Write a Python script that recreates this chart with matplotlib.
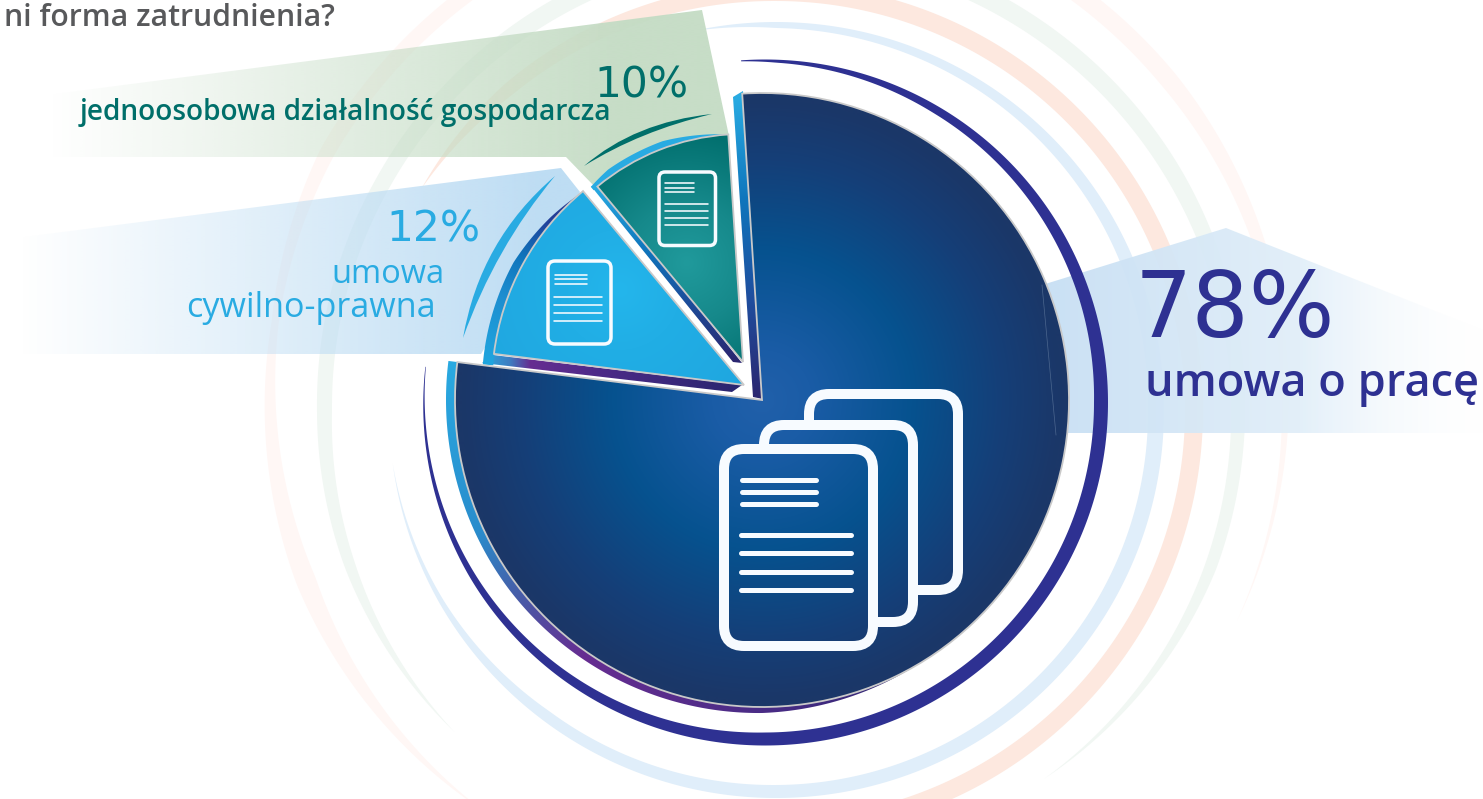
import numpy as np
import matplotlib
matplotlib.use("Agg")
import matplotlib.pyplot as plt
from matplotlib.colors import to_rgb
from matplotlib.patches import Polygon, FancyBboxPatch, PathPatch
from matplotlib.path import Path

# ---- data ----
SHARES = [78, 12, 10]
LABELS = ["umowa o pracę", "umowa\ncywilno-prawna", "jednoosobowa działalność gospodarcza"]
TITLE = "ni forma zatrudnienia?"

W, H = 1483, 799
fig = plt.figure(figsize=(W / 100, H / 100), dpi=100, facecolor="white")
ax = fig.add_axes([0, 0, 1, 1])
ax.set_xlim(0, W)
ax.set_ylim(H, 0)
ax.axis("off")
FONT = "Open Sans"


def polar_poly(c, angs, r_in, r_out, n=400):
    t = np.linspace(angs[0], angs[-1], n)
    ri = np.interp(t, angs, r_in) if angs[0] < angs[-1] else np.interp(t[::-1], angs[::-1], r_in[::-1])[::-1]
    ro = np.interp(t, angs, r_out) if angs[0] < angs[-1] else np.interp(t[::-1], angs[::-1], r_out[::-1])[::-1]
    a = np.radians(t)
    outer = np.c_[c[0] + ro * np.cos(a), c[1] - ro * np.sin(a)]
    inner = np.c_[c[0] + ri * np.cos(a), c[1] - ri * np.sin(a)]
    return np.vstack([outer, inner[::-1]])


def ring(c, angs, r_in, r_out, color, z=1):
    p = Polygon(polar_poly(c, angs, r_in, r_out), closed=True, fc=color, ec="none", zorder=z)
    ax.add_patch(p)
    return p


def grad(clip, box, field, stops, z, alpha=None):
    x0, x1, y0, y1 = box
    xs = np.arange(np.floor(x0), np.ceil(x1) + 1)
    ys = np.arange(np.floor(y0), np.ceil(y1) + 1)
    X, Y = np.meshgrid(xs, ys)
    v = field(X, Y)
    pos = [s[0] for s in stops]
    cols = np.array([to_rgb(s[1]) for s in stops])
    rgba = np.ones(X.shape + (4,))
    for i in range(3):
        rgba[..., i] = np.interp(v, pos, cols[:, i])
    if alpha is not None:
        rgba[..., 3] = np.interp(v, pos, alpha)
    im = ax.imshow(rgba, extent=(xs[0], xs[-1], ys[-1], ys[0]), origin="upper",
                   interpolation="bilinear", aspect="auto", zorder=z)
    im.set_clip_path(clip)
    return im


def poly_grad(pts, field, stops, z, alpha=None):
    pts = np.asarray(pts, float)
    p = Polygon(pts, closed=True, fc="none", ec="none", zorder=z)
    ax.add_patch(p)
    grad(p, (pts[:, 0].min(), pts[:, 0].max(), pts[:, 1].min(), pts[:, 1].max()), field, stops, z, alpha)
    return p


def by_x(X, Y):
    return X


def by_y(X, Y):
    return Y


def by_angle(c):
    return lambda X, Y: np.degrees(np.arctan2(-(Y - c[1]), X - c[0])) % 360


def by_radius(c):
    return lambda X, Y: np.hypot(X - c[0], Y - c[1])


# ---- concentric background rings ----
RC = (776, 410)
ring(RC, [232, 200, 170, 150, 120, 90, 40, -24.5 + 0],
     [496, 490, 505, 510, 510, 508, 504, 507], [497, 510, 512, 525, 526, 526, 522, 507], "#fff7f5", 1)
ring(RC, [225, 200, 180, 150, 90, 30, -20, -54],
     [455, 448, 444, 446, 452, 454, 456, 456], [455, 459, 459, 462, 472, 471, 468, 456], "#f1f7f3", 1)
ring(RC, [148, 130, 90, 0, -72],
     [418, 411, 409, 409, 409], [418, 424, 427, 427, 427], "#fde8df", 1)
ring(RC, [100.5, 90, 0, -90, -127, -150, -172],
     [387, 382, 372, 375, 377, 383, 387], [388, 388, 388, 388, 388, 388, 387], "#e0eefa", 2)

# ---- call-out banners ----
poly_grad([(702, 10), (0, 101), (0, 157), (566, 157), (595, 187), (729, 136)], by_x,
          [(50, "#c5dcc5"), (620, "#c5dcc5")], 3, alpha=[0, 0.97])
poly_grad([(561, 168), (0, 240), (0, 354), (481, 354), (580, 192)], by_x,
          [(20, "#bcdcf3"), (540, "#bcdcf3")], 3, alpha=[0, 0.97])
poly_grad([(1042, 285), (1226, 228), (1483, 330), (1483, 433), (1060, 433)], by_x,
          [(1060, "#c8e0f4"), (1300, "#e0eef9"), (1483, "#ffffff")], 3, alpha=[0.95, 0.9, 0.2])

# ---- outer navy crescent ----
NAVY = "#2e3192"
ring((765, 402.5), [94, 88, 60, 0, -90, -150, -186],
     [342, 340, 335, 329, 330, 337, 341], [343, 343, 343, 343, 343, 343, 341.5], NAVY, 4)

# ---- swooshes ----
for verts, col in [
    ([(584, 166), (635, 122), (712, 114), (640, 131), (584, 166)], "#006f6a"),
    ([(463, 338), (480, 240), (555, 176), (495, 248), (463, 338)], "#29abe2"),
]:
    ax.add_patch(PathPatch(Path(verts, [Path.MOVETO, Path.CURVE3, Path.CURVE3, Path.CURVE3, Path.CURVE3]),
                           fc=col, ec="none", zorder=5))

# ---- pie slices ----
START = -93.7
MC, MR = (762, 400), 307
BC, BR = (744, 385), 252
TC, TR = (743, 362), 228


def slice_of(i, center, radius, z):
    wedges = ax.pie(SHARES, startangle=START, counterclock=True, radius=radius, center=center, frame=True,
                    wedgeprops=dict(fc="none", ec="#c9c9c9", lw=1.3))[0]
    for j, w in enumerate(wedges):
        if j == i:
            w.set_zorder(z + 1)
        else:
            w.remove()
    return wedges[i]


SKY, BLUE2, DEEP = "#29abe2", "#0f75bc", "#2b2670"
# side bands
poly_grad([(733, 97), (743, 91), (763, 399), (753, 397)], by_y,
          [(97, SKY), (200, BLUE2), (300, "#1f4e9e"), (398, DEEP)], 6)
poly_grad(polar_poly(MC, [172.9, 180, 217, 270, 302], [306.5] * 5, [316, 316, 316, 313, 306.5]),
          by_angle(MC), [(172, SKY), (205, "#2a8ccc"), (217, "#4462ab"), (235, "#662d91"), (270, "#4a2c86"), (302, DEEP)], 6)
poly_grad([(482, 363), (493, 355), (742, 385), (732, 392)], by_x,
          [(482, SKY), (510, "#3e7cc0"), (530, "#662d91"), (600, "#4c2a88"), (732, DEEP)], 6)
poly_grad(polar_poly(BC, [175.5, 152, 139, 131], [251.5] * 4, [262, 261, 256, 252]),
          by_angle(BC), [(131, "#2b3990"), (140, "#21409a"), (150, BLUE2), (160, "#1d8ed0"), (175, "#1fa5df")], 6)
poly_grad([(591, 186), (602, 188), (742, 363), (733, 362)], by_y,
          [(186, SKY), (250, BLUE2), (300, "#1c4f9c"), (360, DEEP)], 6)
ring(TC, [93.5, 110, 125, 131], [227.5] * 4, [228, 235, 235, 232], SKY, 6)

# wedges
main_stops = [(0, "#2160aa"), (50, "#1a5ca6"), (150, "#06528f"), (240, "#153f78"), (300, "#1b3768")]
main_field = by_radius(MC)
MBOX = (MC[0] - MR, MC[0] + MR, MC[1] - MR, MC[1] + MR)
w0 = slice_of(0, MC, MR, 7)
grad(w0, MBOX, main_field, main_stops, 7)
w1 = slice_of(1, BC, BR, 7)
grad(w1, (BC[0] - BR, BC[0], BC[1] - BR, BC[1] + 5), by_radius((620, 290)),
     [(0, "#24b6ec"), (60, "#21aee5"), (200, "#1fa3dd")], 7)
w2 = slice_of(2, TC, TR, 7)
grad(w2, (TC[0] - TR, TC[0] + 5, TC[1] - TR, TC[1] + 5), by_radius((687, 263)),
     [(0, "#209a9c"), (60, "#16898b"), (130, "#02706f"), (200, "#02706f")], 7)

ax.plot([1042, 1056], [285, 435], color="#6d86a8", lw=0.5, alpha=0.6, zorder=8)


# ---- document icons ----
def doc(x0, y0, x1, y1, lw_px, rad, z, fill=None):
    p = FancyBboxPatch((x0 + rad, y0 + rad), x1 - x0 - 2 * rad, y1 - y0 - 2 * rad,
                       boxstyle=f"round,pad={rad},rounding_size={rad}",
                       fc="none", ec="#f7fbff", lw=lw_px * 0.72, zorder=z, mutation_aspect=1)
    ax.add_patch(p)
    if fill is not None:
        grad(p, (x0, x1, y0, y1), fill[0], fill[1], z - 0.5)


def lines(x0, x1, ys, lw_px, z):
    for y in ys:
        ax.plot([x0, x1], [y, y], color="#f7fbff", lw=lw_px * 0.72, solid_capstyle="round", zorder=z)


f = (main_field, main_stops)
doc(809, 394, 958, 590, 10, 20, 9)
doc(764, 425, 913, 622, 10, 20, 11, fill=f)
doc(724, 449, 873, 646, 10, 20, 13, fill=f)
lines(742, 816, [480, 492, 504], 5, 14)
lines(741, 851, [535, 553, 572, 590], 5, 14)

doc(659, 172, 715.5, 245.5, 3.5, 6, 9)
lines(665, 694, [183, 188, 192], 1.6, 14)
lines(665, 708, [204, 211, 218, 225], 1.6, 14)
doc(548, 261, 611, 344, 3.5, 7, 9)
lines(555, 587, [275, 279, 284], 1.6, 14)
lines(554, 602, [297, 305, 313, 321], 1.6, 14)


# ---- text ----
def txt(x, y, s, size, color, ha="left", weight="normal", family=FONT):
    ax.text(x, y, s, fontsize=size, color=color, ha=ha, va="baseline", family=family, weight=weight, zorder=20)


txt(4, 26, TITLE, 21.7, "#58595b", weight="semibold")
txt(80, 120, LABELS[2], 20.2, "#006f6a", weight="semibold")
txt(594, 97, f"{SHARES[2]}%", 30.5, "#006f6a", family="DejaVu Sans")
txt(386, 241, f"{SHARES[1]}%", 30.5, "#29abe2", family="DejaVu Sans")
l1, l2 = LABELS[1].split("\n")
txt(445, 283, l1, 23.5, "#29abe2", ha="right")
txt(436, 317, l2, 24.6, "#29abe2", ha="right")
txt(1135, 337, f"{SHARES[0]}%", 65, NAVY, family="DejaVu Sans")
txt(1145, 396, LABELS[0], 32.5, NAVY, weight="semibold")

ax.set_xlim(0, W)
ax.set_ylim(H, 0)
ax.axis("off")
fig.savefig("out.png", dpi=100, facecolor="white")
